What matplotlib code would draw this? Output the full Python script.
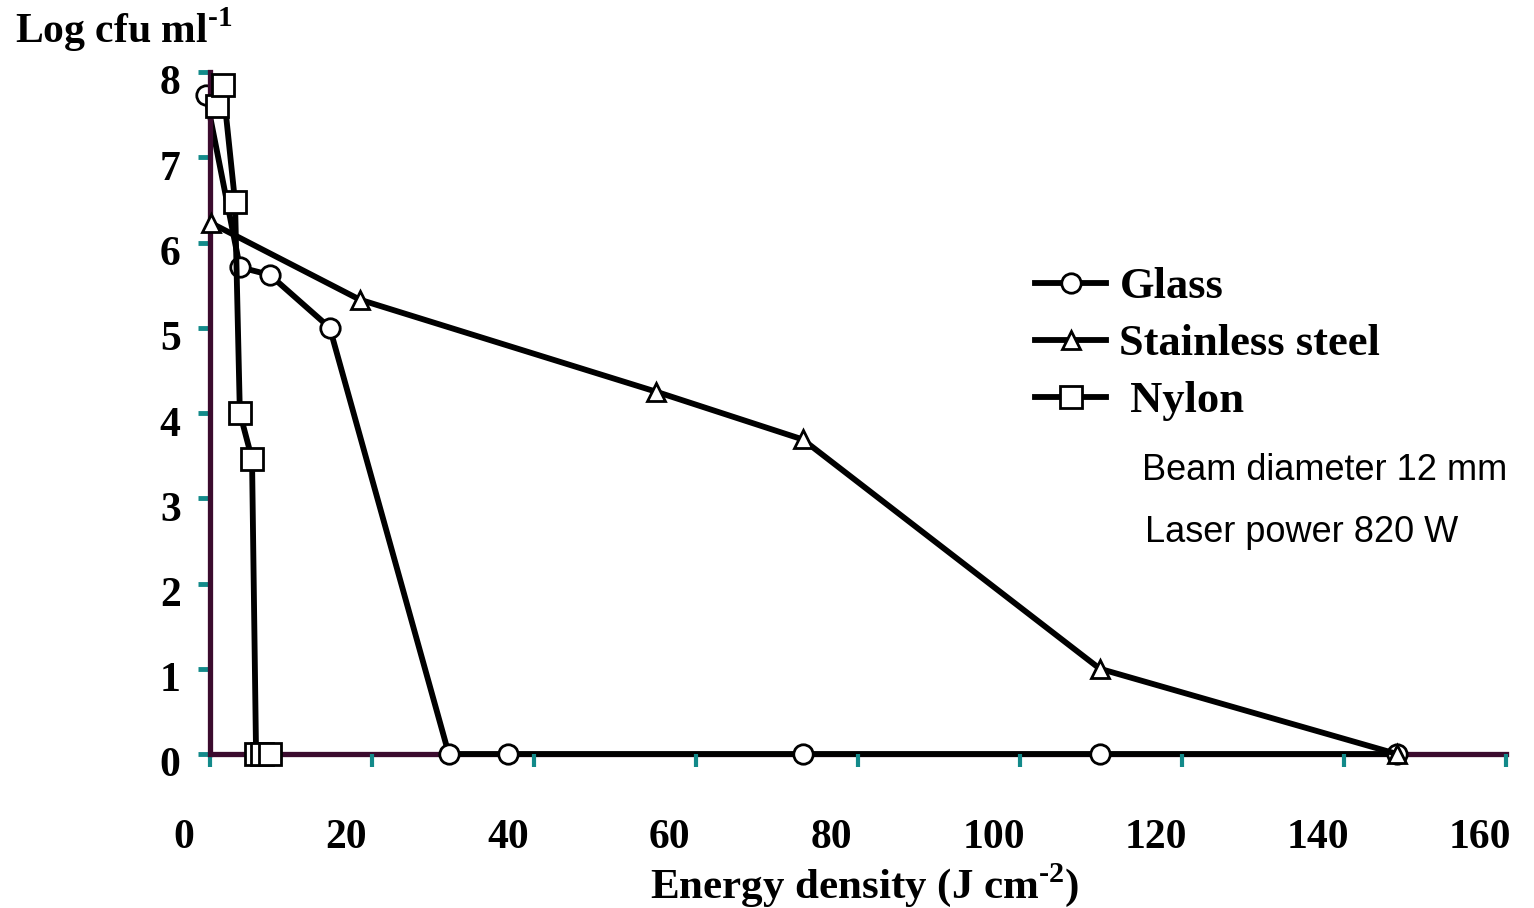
import numpy as np
import matplotlib
matplotlib.use("Agg")
import matplotlib.pyplot as plt
import matplotlib.transforms as mtransforms

plt.rcParams['font.family'] = ['Liberation Serif', 'DejaVu Serif']
plt.rcParams['mathtext.fontset'] = 'custom'
plt.rcParams['mathtext.rm'] = 'Liberation Serif'
plt.rcParams['mathtext.bf'] = 'Liberation Serif:bold'

# dati
glass_x = [2.7, 6.9, 10.6, 18.0, 32.7, 40.0, 76.4, 113.1, 149.8]
glass_y = [7.73, 5.71, 5.62, 5.0, 0, 0, 0, 0, 0]

steel_x = [3.3, 21.7, 58.3, 76.4, 113.1, 149.8]
steel_y = [6.23, 5.33, 4.25, 3.69, 1.0, 0]

nylon_x = [4.1, 4.8, 6.3, 6.9, 8.4, 8.9, 9.6, 10.6]
nylon_y = [7.6, 7.85, 6.48, 4.0, 3.46, 0, 0, 0]

xticks = [0, 20, 40, 60, 80, 100, 120, 140, 160]
yticks = [0, 1, 2, 3, 4, 5, 6, 7, 8]

axis_col = "#3b0b2e"
tick_col = "#138a8a"
x0 = 3.2  # posizione dell'asse y

fig = plt.figure(figsize=(15.34, 9.08), dpi=100)
ax = fig.add_axes([184/1534, 1-754/908, (1512-184)/1534, (754-72)/908])

style = dict(color="k", lw=4.2, mfc="white", mec="k", mew=2.0, clip_on=False)
ax.plot(glass_x, glass_y, marker="o", ms=14, label="Glass", zorder=1.5, **style)
ax.plot(steel_x, steel_y, marker="^", ms=13, label="Stainless steel", zorder=4, **style)
ax.plot(nylon_x, nylon_y, marker="s", ms=16, label=" Nylon", zorder=5, **style)

ax.set_xlim(0, 164)
ax.set_ylim(0, 8)

for s in ["top", "right"]:
    ax.spines[s].set_visible(False)
ax.spines["left"].set_position(("data", x0))
ax.spines["left"].set_color(axis_col)
ax.spines["left"].set_linewidth(3.8)
ax.spines["bottom"].set_color(axis_col)
ax.spines["bottom"].set_linewidth(3.8)
ax.spines["bottom"].set_bounds(x0, x0 + 160)
ax.spines["left"].set_zorder(2)
ax.spines["bottom"].set_zorder(1)

# etichette x senza tacca, tacche spostate come nell'originale
ax.set_xticks(xticks)
ax.set_xticklabels([str(t) for t in xticks], fontsize=30, fontweight="bold")
ax.tick_params(axis="x", which="major", length=0, pad=47)
ax.set_xticks([x0 + t for t in xticks], minor=True)
ax.tick_params(axis="x", which="minor", direction="out", length=9, width=3,
               color=tick_col)

ax.set_yticks(yticks)
ax.set_yticklabels([str(t) for t in yticks], fontsize=30, fontweight="bold")
ax.tick_params(axis="y", direction="out", length=9, width=3.5, color=tick_col, pad=12)
off = mtransforms.ScaledTranslation(0, -8/100, fig.dpi_scale_trans)
for lbl in ax.get_yticklabels():
    lbl.set_transform(lbl.get_transform() + off)

fig.text(865/1534, 1-885/908, "Energy density (J cm$^{\\mathregular{\u20102}}$)",
         ha="center", va="center", fontsize=31, fontweight="bold")
fig.text(15/1534, 1-30/908, "Log cfu ml$^{\\mathregular{\u20101}}$",
         ha="left", va="center", fontsize=30, fontweight="bold")

ax.legend(loc="upper left", bbox_to_anchor=(1035/1534, 1-267/908),
          bbox_transform=fig.transFigure, frameon=False, borderpad=0,
          borderaxespad=0, handlelength=1.6, handletextpad=0.3,
          labelspacing=0.38, prop={"family": "Liberation Serif",
                                   "weight": "bold", "size": 32})

fig.text(1142/1534, 1-470/908, "Beam diameter 12 mm", ha="left", va="center",
         fontsize=26, family="Liberation Sans")
fig.text(1145/1534, 1-533/908, "Laser power 820 W", ha="left", va="center",
         fontsize=26, family="Liberation Sans")

plt.savefig("out.png", dpi=100)
